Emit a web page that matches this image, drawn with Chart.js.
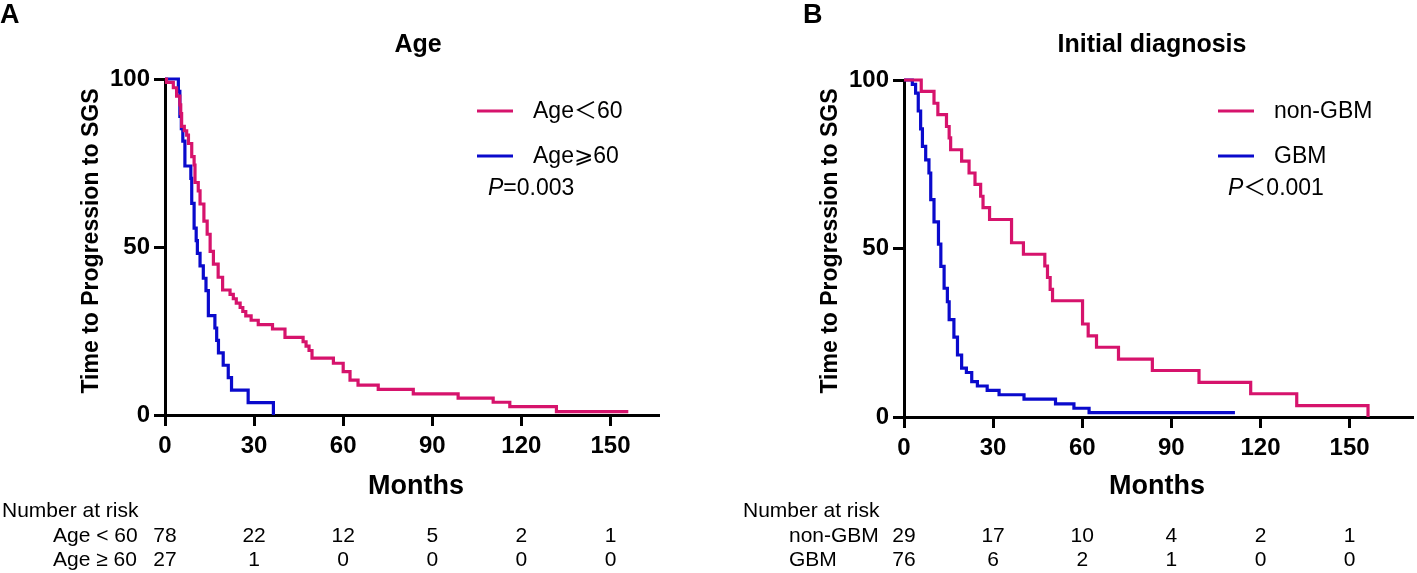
<!DOCTYPE html>
<html>
<head>
<meta charset="utf-8">
<script src="https://cdn.jsdelivr.net/npm/chart.js@4.4.1/dist/chart.umd.min.js"></script>
<style>
  html, body { margin: 0; padding: 0; background: #fff; }
  #wrap { position: relative; width: 1417px; height: 573px; }
  #wrap canvas { position: absolute; left: 0; top: 0; }
</style>
</head>
<body>
<div id="wrap">
  <canvas id="chartA" width="1417" height="573"></canvas>
  <canvas id="chartB" width="1417" height="573"></canvas>
</div>
<script>
// ticks shared by both panels
const monthTicks = [0, 30, 60, 90, 120, 150];
const pctTicks = [0, 50, 100];

// panel A - age (months, % still free of progression)
const youngTime = [0, 0.5, 2.8, 3.9, 5.0, 5.3, 5.6, 6.5, 7.3, 7.9, 9.0, 9.8, 10.1, 11.2, 11.8, 13.1, 14.2, 15.2, 16.3, 17.9, 19.4, 21.9, 23.0, 24.0, 25.3, 26.2, 27.2, 29.0, 31.4, 36.2, 40.4, 46.5, 47.5, 48.5, 49.5, 56.7, 60.0, 62.3, 65.0, 71.8, 83.6, 98.7, 110.5, 116.1, 131.8, 156.0];
const youngPct  = [100, 99.0, 97.4, 94.9, 92.3, 89.7, 85.9, 84.6, 83.3, 80.8, 76.9, 74.4, 69.2, 66.7, 62.8, 57.7, 53.8, 48.7, 44.9, 41.0, 37.2, 35.9, 34.6, 33.3, 32.0, 30.8, 29.5, 28.2, 26.9, 25.6, 23.1, 21.8, 20.5, 19.2, 16.9, 15.4, 12.9, 10.4, 8.9, 7.6, 6.3, 5.0, 3.8, 2.5, 1.0, 1.0];
const oldTime = [0, 4.5, 5.0, 5.5, 6.0, 6.7, 8.7, 9.0, 9.8, 10.5, 10.9, 11.8, 12.9, 13.8, 14.6, 16.8, 17.4, 18.0, 19.6, 21.3, 22.4, 28.0, 36.5];
const oldPct  = [100, 96.3, 88.9, 85.2, 81.5, 74.1, 70.4, 63.0, 55.6, 51.9, 48.1, 44.4, 40.7, 37.0, 29.6, 25.9, 22.2, 18.5, 14.8, 11.1, 7.4, 3.7, 0];
const youngRisk = [78, 22, 12, 5, 2, 1];
const oldRisk = [27, 1, 0, 0, 0, 0];

// panel B - initial diagnosis
const nonGbmTime = [0, 5.8, 10.1, 11.4, 14.3, 15.2, 15.7, 19.4, 21.9, 23.9, 25.8, 26.6, 28.8, 36.2, 40.2, 47.4, 48.3, 49.2, 50.0, 60.1, 62.0, 64.8, 72.2, 83.6, 99.3, 116.7, 132.2, 156.2];
const nonGbmPct  = [100, 96.6, 93.1, 89.7, 86.2, 82.8, 79.3, 75.9, 72.4, 69.0, 65.5, 62.1, 58.6, 51.7, 48.3, 44.8, 41.4, 37.9, 34.5, 27.6, 24.1, 20.7, 17.2, 13.8, 10.3, 6.9, 3.4, 0];
const gbmTime = [0, 2.8, 3.9, 4.8, 5.6, 6.2, 7.3, 8.4, 9.0, 10.1, 11.6, 12.4, 13.5, 14.6, 15.2, 16.8, 18.0, 19.4, 21.0, 22.8, 24.7, 28.0, 32.0, 40.4, 51.0, 57.2, 62.3, 111.4];
const gbmPct  = [100, 98.7, 96.1, 90.8, 85.5, 80.3, 76.3, 72.4, 64.5, 57.9, 51.3, 44.7, 38.2, 34.2, 28.9, 23.7, 18.4, 14.5, 13.2, 10.5, 9.2, 7.9, 6.6, 5.3, 3.9, 2.6, 1.3, 1.3];
const nonGbmRisk = [29, 17, 10, 4, 2, 1];
const gbmRisk = [76, 6, 2, 1, 0, 0];

const RED = "#d6136c";
const BLUE = "#0a0acc";
const FONT = '"Liberation Sans", Arial, "DejaVu Sans", "Noto Sans CJK SC", sans-serif';
const YW = 60; // width given to the y scale box

function toPoints(t, s) {
    return t.map((x, i) => ({ x: x, y: s[i] }));
}

// text that chart.js does not place for us: titles, legend, risk table
function extras(o) {
    return {
        id: "extras",
        afterDraw(chart) {
            const ctx = chart.ctx;
            const xs = chart.scales.x;
            ctx.save();
            ctx.fillStyle = "#000";
            ctx.textBaseline = "middle";

            // panel letter + title
            ctx.font = "bold 27px " + FONT;
            ctx.textAlign = "left";
            ctx.fillText(o.letter, o.letterX, 16);
            ctx.font = "bold 25px " + FONT;
            ctx.textAlign = "center";
            ctx.fillText(o.title, o.titleX, 45);

            // y title
            ctx.save();
            ctx.translate(o.yTitleX, 241);
            ctx.rotate(-Math.PI / 2);
            ctx.font = "bold 23px " + FONT;
            ctx.fillText("Time to Progression to SGS", 0, 0);
            ctx.restore();

            // x title
            ctx.font = "bold 27px " + FONT;
            ctx.fillText("Months", o.monthsX, 487);

            // legend
            const lx = o.legendX;
            [[RED, o.names[0], 111], [BLUE, o.names[1], 156]].forEach(([c, name, y]) => {
                ctx.strokeStyle = c;
                ctx.lineWidth = 3;
                ctx.beginPath();
                ctx.moveTo(lx, y);
                ctx.lineTo(lx + 36, y);
                ctx.stroke();
                ctx.textAlign = "left";
                ctx.font = "23px " + FONT;
                ctx.fillText(name, lx + 56, y + 1);
            });
            ctx.font = "italic 23px " + FONT;
            ctx.fillText("P", o.pX, 189);
            const pw = ctx.measureText("P").width;
            ctx.font = "23px " + FONT;
            ctx.fillText(o.pText, o.pX + pw, 189);

            // number at risk
            ctx.font = "21px " + FONT;
            ctx.textAlign = "left";
            ctx.fillText("Number at risk", o.riskX, 511);
            ctx.fillText(o.riskNames[0], o.riskLabelX, 536);
            ctx.fillText(o.riskNames[1], o.riskLabelX, 560);
            ctx.textAlign = "center";
            monthTicks.forEach((m, i) => {
                const px = xs.getPixelForValue(m);
                ctx.fillText(String(o.risk[0][i]), px, 536);
                ctx.fillText(String(o.risk[1][i]), px, 560);
            });
            ctx.restore();
        }
    };
}

function axisOpts(step, pad) {
    return {
        grid: { drawOnChartArea: false, drawTicks: true, tickLength: 11, tickWidth: 3, tickColor: "#000", color: "#000", lineWidth: 3 },
        border: { display: true, width: 3, color: "#000" },
        ticks: { stepSize: step, includeBounds: false, autoSkip: false, maxRotation: 0, padding: pad, color: "#000", font: { family: FONT, size: 24, weight: "bold" } }
    };
}

function kmChart(id, o) {
    const xAxis = axisOpts(30, 6);
    const yAxis = axisOpts(50, 4);
    return new Chart(document.getElementById(id), {
        type: "line",
        data: {
            datasets: [
                { label: o.names[0], data: toPoints(o.t1, o.s1), borderColor: RED, borderWidth: 3.2, stepped: true, pointRadius: 0, fill: false, clip: false },
                { label: o.names[1], data: toPoints(o.t2, o.s2), borderColor: BLUE, borderWidth: 3.2, stepped: true, pointRadius: 0, fill: false, clip: false }
            ]
        },
        options: {
            responsive: false,
            animation: false,
            layout: { padding: { left: o.left - YW, right: 1417 - o.right, top: o.top, bottom: 0 } },
            plugins: { legend: { display: false }, tooltip: { enabled: false } },
            scales: {
                x: Object.assign(xAxis, { type: "linear", min: 0, max: o.xMax, afterFit: s => { s.height = 573 - o.bottom; } }),
                y: Object.assign(yAxis, { min: 0, max: 100, afterFit: s => { s.width = YW; } })
            }
        },
        plugins: [extras(o)]
    });
}

kmChart("chartA", {
    t1: youngTime, s1: youngPct, t2: oldTime, s2: oldPct,
    names: ["Age\uFF1C60", "Age\u2A7E60"],
    riskNames: ["Age < 60", "Age \u2265 60"],
    risk: [youngRisk, oldRisk],
    left: 165, right: 658, top: 79, bottom: 415, xMax: 166,
    letter: "A", letterX: 0, title: "Age", titleX: 418, yTitleX: 92, monthsX: 416,
    legendX: 477, pX: 488, pText: "=0.003",
    riskX: 2, riskLabelX: 53
});

kmChart("chartB", {
    t1: nonGbmTime, s1: nonGbmPct, t2: gbmTime, s2: gbmPct,
    names: ["non-GBM", "GBM"],
    riskNames: ["non-GBM", "GBM"],
    risk: [nonGbmRisk, gbmRisk],
    left: 904, right: 1412, top: 80, bottom: 417, xMax: 171,
    letter: "B", letterX: 803, title: "Initial diagnosis", titleX: 1152, yTitleX: 831, monthsX: 1157,
    legendX: 1218, pX: 1228, pText: "\uFF1C0.001",
    riskX: 743, riskLabelX: 789
});
</script>
</body>
</html>
